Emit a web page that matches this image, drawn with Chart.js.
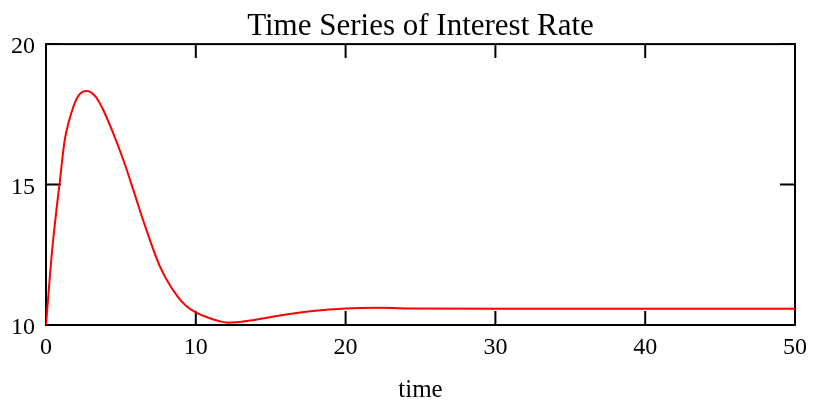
<!DOCTYPE html>
<html>
<head>
<meta charset="utf-8">
<script src="https://cdn.jsdelivr.net/npm/chart.js@4"></script>
<style>
    body { margin: 0; background: #fff; }
    canvas { display: block; }
</style>
</head>
<body>
<canvas id="rateChart" width="815" height="405"></canvas>
<script>
// interest rate over time
const timeValues = [0, 0.4, 0.75, 0.91, 1.24, 1.53, 2.09, 2.69, 3.31, 3.87, 4.53, 5.2, 5.93, 6.49, 7.6, 8.8, 9.38, 10, 10.93, 11.6, 12.2, 13.4, 15.6, 17.8, 20, 22.3, 24.5, 30, 40, 50];
const rateValues = [10, 12.6, 14.34, 15.05, 16.55, 17.25, 18.1, 18.33, 18.13, 17.6, 16.77, 15.82, 14.64, 13.72, 12.09, 11.0, 10.67, 10.45, 10.24, 10.13, 10.08, 10.14, 10.34, 10.5, 10.59, 10.61, 10.59, 10.58, 10.58, 10.58];
const xTicks = [0, 10, 20, 30, 40, 50];
const yTicks = [10, 15, 20];

const serif = "'Liberation Serif', 'Times New Roman', serif";

// box around the plot with inward tick marks on all four sides
const frameTicks = {
    id: 'frameTicks',
    beforeDatasetsDraw(chart) {
        const { ctx, chartArea: a, scales: { x, y } } = chart;
        ctx.save();
        ctx.strokeStyle = '#000';
        ctx.lineWidth = 2;
        ctx.strokeRect(a.left, a.top, a.right - a.left, a.bottom - a.top);
        ctx.beginPath();
        xTicks.forEach(v => {
            const px = x.getPixelForValue(v);
            ctx.moveTo(px, a.bottom);
            ctx.lineTo(px, a.bottom - 14);
            ctx.moveTo(px, a.top);
            ctx.lineTo(px, a.top + 14);
        });
        yTicks.forEach(v => {
            const py = y.getPixelForValue(v);
            ctx.moveTo(a.left, py);
            ctx.lineTo(a.left + 15, py);
            ctx.moveTo(a.right, py);
            ctx.lineTo(a.right - 15, py);
        });
        ctx.stroke();
        ctx.restore();
    }
};

new Chart(document.getElementById('rateChart'), {
    type: 'line',
    data: {
        datasets: [{
            data: timeValues.map((t, i) => ({ x: t, y: rateValues[i] })),
            borderColor: '#ff0000',
            borderWidth: 2,
            pointRadius: 0,
            cubicInterpolationMode: 'monotone',
            fill: false
        }]
    },
    options: {
        responsive: false,
        animation: false,
        layout: { padding: { left: 0, right: 18, top: 0, bottom: 0 } },
        plugins: {
            legend: { display: false },
            tooltip: { enabled: false },
            title: {
                display: true,
                fullSize: false,
                text: 'Time Series of Interest Rate',
                color: '#000',
                font: { family: serif, size: 31, weight: 'normal', lineHeight: 1.1 },
                padding: { top: 10, bottom: 0 }
            }
        },
        scales: {
            x: {
                type: 'linear',
                min: 0,
                max: 50,
                afterFit(scale) { scale.height = 80; },
                afterBuildTicks(scale) { scale.ticks = xTicks.map(v => ({ value: v })); },
                grid: { display: false, drawTicks: false },
                border: { display: false },
                ticks: { color: '#000', padding: 8, font: { family: serif, size: 24 } },
                title: {
                    display: true,
                    text: 'time',
                    color: '#000',
                    font: { family: serif, size: 25 },
                    padding: { top: 0, bottom: 0 }
                }
            },
            y: {
                min: 10,
                max: 20,
                afterFit(scale) { scale.width = 46; },
                afterBuildTicks(scale) { scale.ticks = yTicks.map(v => ({ value: v })); },
                grid: { display: false, drawTicks: false },
                border: { display: false },
                ticks: { color: '#000', padding: 11, labelOffset: 3, font: { family: serif, size: 24 } }
            }
        }
    },
    plugins: [frameTicks]
});
</script>
</body>
</html>
